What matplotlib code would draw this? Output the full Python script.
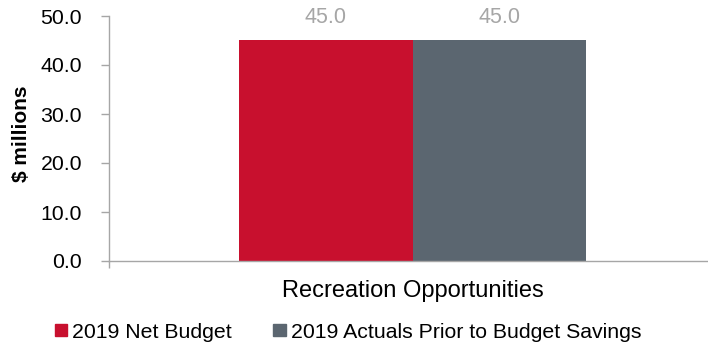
import matplotlib
matplotlib.use("Agg")
import matplotlib.pyplot as plt
from matplotlib.patches import Patch

plt.rcParams['font.family'] = ['Liberation Sans', 'DejaVu Sans']

categories = ["Recreation Opportunities"]
series_names = ["2019 Net Budget", "2019 Actuals Prior to Budget Savings"]
net_budget = [45.0]
actuals = [45.0]
y_ticks = [0, 10, 20, 30, 40, 50]

colors = ["#C8102E", "#5B6670"]
axis_gray = "#A6A6A6"

W, H = 708, 347
fig = plt.figure(figsize=(W / 100, H / 100), dpi=100)
ax = fig.add_axes([109 / W, (H - 261) / H, (708 - 109) / W, (261 - 16) / H])

bw = 0.286
x0 = 0.0
b1 = ax.bar(x0 - bw / 2, net_budget, width=bw, color=colors[0])
b2 = ax.bar(x0 + bw / 2, actuals, width=bw, color=colors[1])

for bars, vals in ((b1, net_budget), (b2, actuals)):
    for rect, v in zip(bars, vals):
        ax.annotate(f"{v:.1f}", (rect.get_x() + rect.get_width() / 2, v),
                    xytext=(0, 23), textcoords="offset pixels",
                    ha="center", va="center", fontsize=15.5, color=axis_gray)

ax.set_ylim(0, 50)
ax.set_xlim(-0.5, 0.5 - 8 / 607)
ax.set_yticks(y_ticks)
ax.set_yticklabels([f"{t:.1f}" for t in y_ticks], fontsize=15.3)
ax.set_xticks([-0.5])
ax.set_xticklabels([""])
ax.tick_params(axis="y", length=6, width=1, color=axis_gray, pad=13.5)
ax.tick_params(axis="x", length=5, width=1, color=axis_gray)

ax.text(x0, -(297 - 261) / 245, categories[0], transform=ax.get_xaxis_transform(),
        ha="center", va="baseline", fontsize=17)

for s in ("top", "right"):
    ax.spines[s].set_visible(False)
for s in ("left", "bottom"):
    ax.spines[s].set_color(axis_gray)
    ax.spines[s].set_linewidth(1)

fig.text(22 / W, 1 - 133.5 / H, "$ millions", rotation=90, ha="center", va="center",
         fontsize=15, fontweight="bold")

handles = [Patch(color=c) for c in colors]
fig.legend(handles, series_names, loc="center left", bbox_to_anchor=(55 / W, 1 - 332 / H),
           ncol=2, frameon=False, fontsize=15.3, handlelength=0.57, handleheight=0.55,
           handletextpad=0.24, columnspacing=1.95, borderaxespad=0, borderpad=0)

fig.savefig("out.png", dpi=100)
